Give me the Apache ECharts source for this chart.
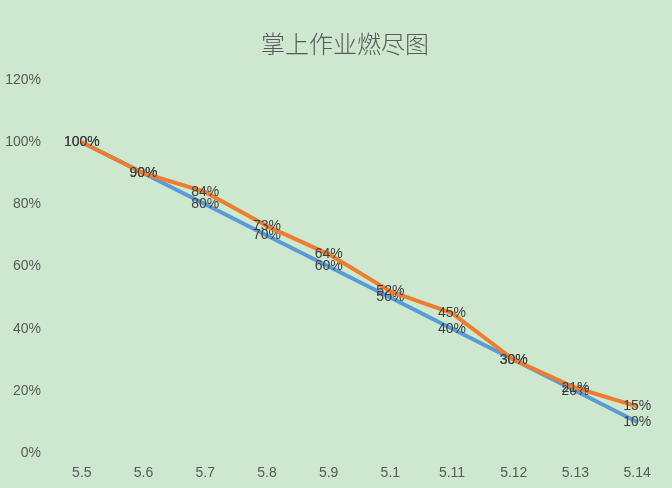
<!DOCTYPE html>
<html>
<head>
<meta charset="utf-8">
<script src="https://cdn.jsdelivr.net/npm/echarts@6/dist/echarts.min.js"></script>
<style>
html,body{margin:0;padding:0;background:#cde8cf;}
#c{width:672px;height:488px;}
</style>
</head>
<body>
<div id="c"></div>
<script>
const categories = ['5.5','5.6','5.7','5.8','5.9','5.1','5.11','5.12','5.13','5.14'];
const plannedValues = [1.00,0.90,0.80,0.70,0.60,0.50,0.40,0.30,0.20,0.10];
const actualValues = [1.00,0.90,0.84,0.73,0.64,0.52,0.45,0.30,0.21,0.15];
const titleText = '掌上作业燃尽图';

const pct = v => Math.round(v * 100) + '%';
const labelStyle = {
  show: true,
  position: 'inside',
  color: '#404040',
  fontSize: 14,
  fontFamily: 'Liberation Sans, sans-serif',
  formatter: p => pct(p.value)
};

const chart = echarts.init(document.getElementById('c'), null, {renderer: 'canvas'});
chart.setOption({
  backgroundColor: '#cde8cf',
  animation: false,
  title: {
    text: titleText,
    left: 256,
    top: 27,
    textStyle: {
      color: '#595959',
      fontSize: 24,
      fontWeight: 300,
      fontFamily: 'Noto Sans CJK SC, sans-serif'
    }
  },
  grid: {left: 51, right: 4, top: 80, bottom: 35, containLabel: false},
  xAxis: {
    type: 'category',
    data: categories,
    boundaryGap: true,
    axisLine: {show: false},
    axisTick: {show: false},
    splitLine: {show: false},
    axisLabel: {color: '#595959', fontSize: 14, margin: 13, fontFamily: 'Liberation Sans, sans-serif'}
  },
  yAxis: {
    type: 'value',
    min: 0,
    max: 1.2,
    interval: 0.2,
    axisLine: {show: false},
    axisTick: {show: false},
    splitLine: {show: false},
    axisLabel: {
      color: '#595959', fontSize: 14, margin: 10,
      fontFamily: 'Liberation Sans, sans-serif',
      formatter: v => Math.round(v * 100) + '%'
    }
  },
  series: [
    {
      name: '计划',
      type: 'line',
      data: plannedValues,
      symbol: 'circle',
      symbolSize: 0,
      showSymbol: true,
      lineStyle: {color: '#5b9bd5', width: 4},
      itemStyle: {color: '#5b9bd5'},
      label: labelStyle,
      z: 2
    },
    {
      name: '实际',
      type: 'line',
      data: actualValues,
      symbol: 'circle',
      symbolSize: 0,
      showSymbol: true,
      lineStyle: {color: '#ed7d31', width: 4},
      itemStyle: {color: '#ed7d31'},
      label: labelStyle,
      z: 3
    }
  ]
});
</script>
</body>
</html>
